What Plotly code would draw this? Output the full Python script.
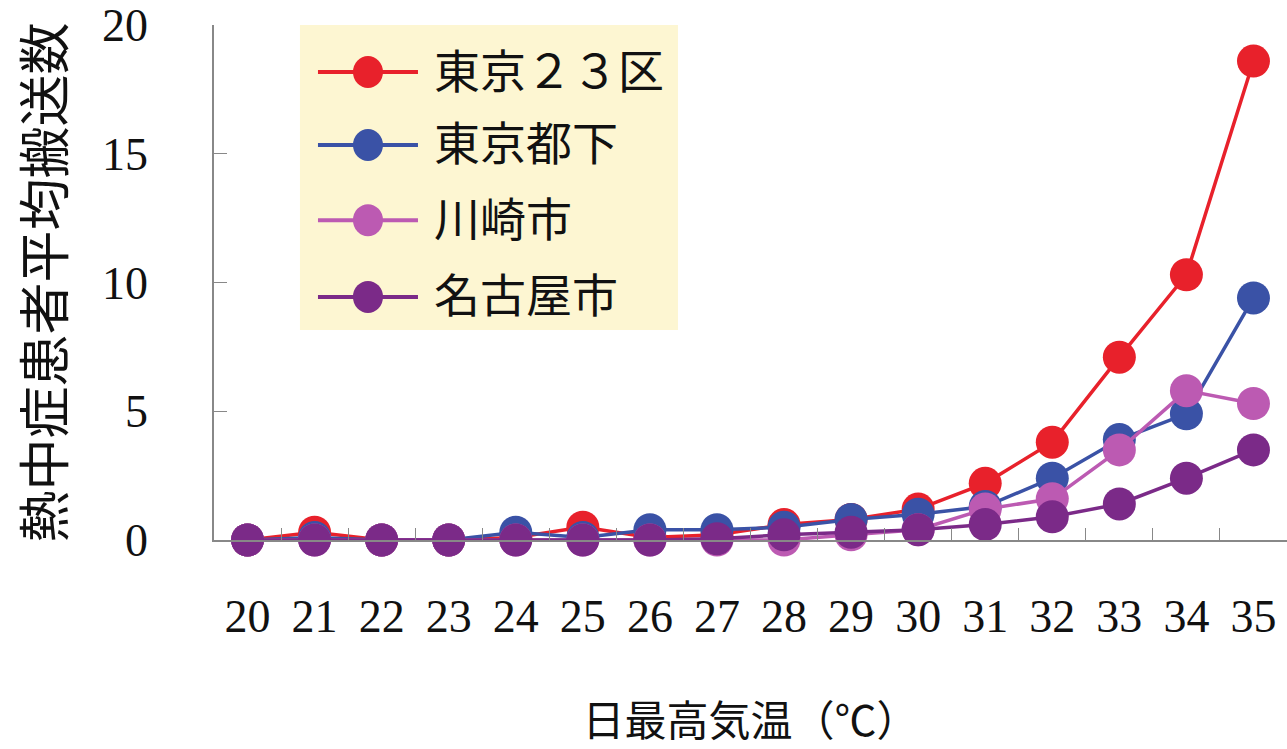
import plotly.graph_objects as go

temps = [str(t) for t in range(20, 36)]
names = ["東京２３区", "東京都下", "川崎市", "名古屋市"]
colors = ["#E8212B", "#3A52A6", "#BC5AB2", "#7B2A88"]

tokyo23 = [0.0, 0.3, 0.0, 0.0, 0.1, 0.5, 0.1, 0.2, 0.6, 0.8, 1.2, 2.2, 3.8, 7.1, 10.3, 18.6]
tokyo_other = [0.0, 0.1, 0.0, 0.0, 0.3, 0.1, 0.4, 0.4, 0.5, 0.8, 1.0, 1.3, 2.4, 3.9, 4.9, 9.4]
kawasaki = [0.0, 0.0, 0.0, 0.0, 0.0, 0.0, 0.0, 0.0, 0.0, 0.2, 0.4, 1.2, 1.6, 3.5, 5.8, 5.3]
nagoya = [0.0, 0.0, 0.0, 0.0, 0.0, 0.0, 0.0, 0.05, 0.2, 0.3, 0.4, 0.6, 0.9, 1.4, 2.4, 3.5]
series = [tokyo23, tokyo_other, kawasaki, nagoya]

y_ticks = [0, 5, 10, 15, 20]
x_title = "日最高気温（℃）"
y_title = "熱中症患者平均搬送数"

FONT = "Liberation Serif, Noto Sans CJK JP, serif"

fig = go.Figure()
for name, col, vals in zip(names, colors, series):
    fig.add_trace(go.Scatter(
        x=temps, y=vals, name=name, mode="lines+markers",
        line=dict(color=col, width=3.5),
        marker=dict(color=col, size=33),
        cliponaxis=False, showlegend=False,
    ))

# manual legend (box, line+marker samples, labels)
fig.add_shape(type="rect", xref="paper", yref="paper",
              x0=0.0801, x1=0.4324, y0=0.408, y1=1.0,
              fillcolor="#FDF6D2", line=dict(width=0), layer="below")
row_y = [0.9087, 0.767, 0.621, 0.472]
for name, col, yy in zip(names, colors, row_y):
    fig.add_shape(type="line", xref="paper", yref="paper",
                  x0=0.0969, x1=0.1901, y0=yy, y1=yy,
                  line=dict(color=col, width=4))
    fig.add_shape(type="circle", xref="paper", yref="paper",
                  xsizemode="pixel", ysizemode="pixel",
                  xanchor=0.1435, yanchor=yy,
                  x0=-15, x1=15, y0=-16, y1=16,
                  fillcolor=col, line=dict(width=0))
    fig.add_annotation(xref="paper", yref="paper", x=0.2032, y=yy,
                       xanchor="left", yanchor="middle", showarrow=False,
                       text=name, font=dict(family=FONT, size=46, color="#111"))

fig.update_xaxes(
    type="category", range=[-0.5, 15.5],
    tickson="boundaries", ticks="inside", ticklen=12, tickcolor="#888",
    showline=True, linecolor="#888", linewidth=1.5,
    showgrid=False, zeroline=False,
    tickfont=dict(family=FONT, size=46, color="#111"),
    ticklabelstandoff=35,
    title=dict(text=x_title, font=dict(family=FONT, size=42, color="#111"), standoff=66),
)
fig.update_yaxes(
    range=[0, 20], tickvals=y_ticks,
    ticks="inside", ticklen=13, tickcolor="#888",
    showline=True, linecolor="#888", linewidth=1.5,
    showgrid=False, zeroline=False,
    tickfont=dict(family=FONT, size=46, color="#111"),
    ticklabelstandoff=55,
    title=dict(text=y_title, font=dict(family=FONT, size=52, color="#111"), standoff=21),
)
fig.update_layout(
    width=1287, height=749,
    margin=dict(l=214, r=0, t=25, b=209, autoexpand=False),
    paper_bgcolor="white", plot_bgcolor="white",
    showlegend=False,
)
fig.write_html("out.html")
